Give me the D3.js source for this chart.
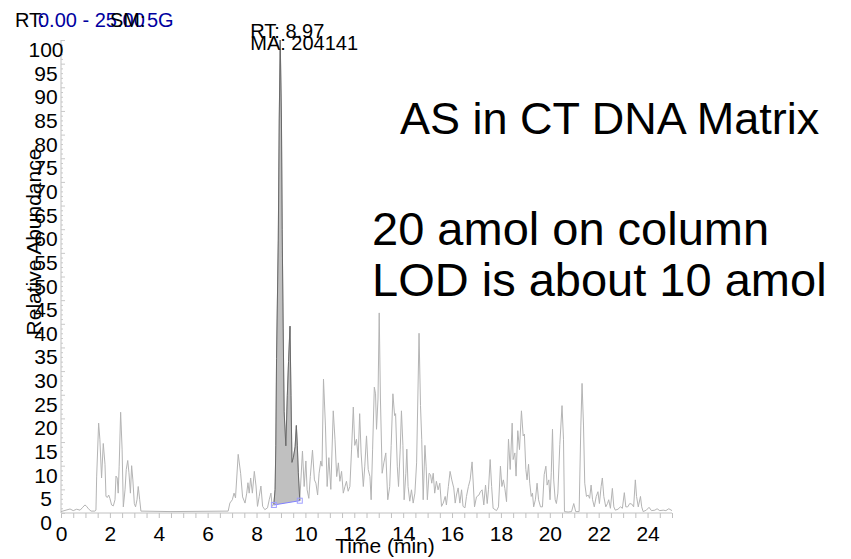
<!DOCTYPE html>
<html>
<head>
<meta charset="utf-8">
<script src="https://cdn.jsdelivr.net/npm/d3@7"></script>
<style>
body { margin: 0; background: #fff; }
text { font-family: "Liberation Sans", Arial, sans-serif; }
</style>
</head>
<body>
<script>
var width = 851;
var height = 559;

// chromatogram trace, time (min) and relative abundance (%)
var times = [0.0, 0.37, 0.5, 0.64, 0.78, 0.87, 0.98, 1.05, 1.12, 1.23, 1.39, 1.43, 1.46, 1.54, 1.59, 1.66, 1.73, 1.8, 1.84, 1.9,
  1.95, 2.0, 2.07, 2.14, 2.21, 2.25, 2.3, 2.34, 2.38, 2.44, 2.5, 2.55, 2.62, 2.67, 2.73, 2.78, 2.84, 2.89, 2.94, 3.0,
  3.05, 3.11, 3.16, 3.22, 3.27, 4.5, 6.84, 6.91, 7.01, 7.08, 7.14, 7.25, 7.35, 7.43, 7.53, 7.6, 7.65, 7.7, 7.76, 7.83,
  7.91, 7.98, 8.04, 8.11, 8.18, 8.25, 8.34, 8.45, 8.52, 8.59, 8.64, 8.71, 8.76, 8.79, 8.82, 8.89, 8.93, 8.97, 9.02, 9.05,
  9.09, 9.13, 9.2, 9.26, 9.31, 9.37, 9.41, 9.45, 9.51, 9.58, 9.63, 9.67, 9.71, 9.77, 9.88, 9.95, 10.02, 10.07, 10.14, 10.2,
  10.29, 10.37, 10.43, 10.5, 10.56, 10.63, 10.68, 10.74, 10.82, 10.89, 10.96, 11.04, 11.14, 11.21, 11.28, 11.35, 11.41, 11.48, 11.55, 11.62,
  11.68, 11.75, 11.82, 11.89, 11.96, 12.02, 12.09, 12.16, 12.22, 12.28, 12.37, 12.43, 12.5, 12.57, 12.64, 12.69, 12.75, 12.82, 12.87, 12.91,
  12.97, 13.02, 13.07, 13.14, 13.21, 13.29, 13.37, 13.45, 13.51, 13.58, 13.65, 13.69, 13.76, 13.81, 13.88, 13.93, 13.99, 14.04, 14.11, 14.15,
  14.2, 14.27, 14.34, 14.41, 14.48, 14.55, 14.6, 14.65, 14.71, 14.76, 14.82, 14.89, 14.94, 14.99, 15.06, 15.12, 15.17, 15.23, 15.29, 15.36,
  15.43, 15.5, 15.57, 15.64, 15.72, 15.77, 15.85, 15.92, 15.99, 16.07, 16.13, 16.18, 16.25, 16.32, 16.39, 16.45, 16.53, 16.59, 16.67, 16.74,
  16.82, 16.92, 17.0, 17.1, 17.16, 17.23, 17.3, 17.37, 17.44, 17.49, 17.56, 17.62, 17.68, 17.82, 17.9, 17.98, 18.04, 18.1, 18.16, 18.23,
  18.31, 18.38, 18.46, 18.5, 18.57, 18.62, 18.69, 18.76, 18.84, 18.91, 18.96, 19.02, 19.07, 19.13, 19.18, 19.24, 19.29, 19.34, 19.41, 19.48,
  19.54, 19.62, 19.7, 19.77, 19.84, 19.89, 19.96, 20.01, 20.06, 20.11, 20.16, 20.22, 20.27, 20.33, 20.41, 20.5, 20.56, 20.6, 20.75, 20.89,
  20.98, 21.06, 21.2, 21.27, 21.32, 21.38, 21.43, 21.5, 21.57, 21.63, 21.69, 21.75, 21.82, 21.9, 21.97, 22.03, 22.1, 22.15, 22.21, 22.29,
  22.36, 22.41, 22.48, 22.56, 22.62, 22.68, 22.79, 22.89, 22.97, 23.05, 23.11, 23.19, 23.27, 23.35, 23.43, 23.5, 23.55, 23.62, 23.71, 23.76,
  23.82, 23.95, 24.06, 24.16, 24.3, 24.39, 24.5, 24.64, 24.75, 24.87, 25.0];

var abundance = [0.3, 0.85, 0.5, 0.8, 0.6, 1.1, 1.7, 1.4, 0.9, 0.4, 0.4, 0.6, 7.8, 19.0, 15.6, 7.4, 14.7, 10.3, 3.5, 3.3,
  3.8, 3.1, 1.7, 1.5, 2.8, 7.8, 7.4, 4.2, 9.9, 21.3, 13.5, 1.3, 4.9, 9.2, 11.1, 8.5, 4.2, 10.0, 7.0, 2.0,
  1.3, 2.8, 5.6, 2.8, 0.4, 0.3, 0.4, 2.1, 2.8, 4.2, 3.2, 12.4, 8.4, 3.4, 2.1, 4.2, 6.4, 4.2, 7.4, 4.2,
  8.8, 5.7, 1.4, 3.5, 5.7, 1.4, 0.7, 1.1, 2.8, 4.2, 1.4, 1.9, 5.0, 14.2, 32.7, 57.7, 83.3, 100, 83.3, 60,
  39.1, 21.4, 14.2, 24.9, 32.0, 39.5, 24.9, 10.7, 11.8, 14.0, 18.5, 14.2, 8.5, 2.6, 13.1, 5.6, 11.0, 4.9, 3.1, 7.7,
  13.3, 7.0, 6.3, 3.8, 8.4, 11.0, 9.9, 28.3, 18.4, 5.6, 11.7, 5.0, 21.6, 15.6, 7.7, 10.6, 6.7, 8.8, 4.2, 5.6,
  6.7, 4.6, 5.6, 13.5, 22.4, 14.3, 15.6, 11.7, 21.0, 12.7, 5.6, 9.9, 16.3, 9.2, 7.7, 2.8, 13.5, 26.6, 25.2, 17.7,
  24.1, 42.3, 24.1, 8.4, 10.6, 12.7, 2.8, 5.6, 14.3, 25.2, 20.6, 21.0, 9.9, 5.6, 13.5, 21.6, 14.3, 2.8, 8.4, 13.5,
  5.6, 2.5, 4.9, 2.1, 4.2, 10.6, 24.1, 38.0, 22.7, 15.6, 2.8, 14.3, 9.9, 2.8, 8.4, 8.1, 6.3, 8.4, 4.2, 6.7,
  4.9, 6.3, 1.4, 2.1, 3.5, 1.7, 5.6, 8.8, 7.0, 5.3, 2.1, 3.8, 5.3, 2.1, 4.9, 1.4, 1.1, 3.5, 5.6, 7.0,
  10.8, 1.3, 3.4, 3.8, 4.5, 4.9, 1.7, 5.9, 2.0, 4.9, 11.3, 5.6, 1.0, 0.5, 1.3, 9.9, 5.6, 7.0, 5.2, 2.4,
  15.6, 9.2, 19.0, 11.3, 12.7, 7.8, 17.4, 13.4, 21.6, 16.3, 16.7, 9.2, 7.0, 10.3, 6.3, 3.5, 4.2, 1.3, 2.8, 6.3,
  2.8, 1.3, 1.3, 8.1, 9.9, 5.9, 7.0, 2.8, 8.5, 17.7, 7.0, 2.8, 2.0, 4.2, 14.5, 22.7, 15.6, 0.3, 0.2, 0.3,
  2.0, 0.3, 0.3, 18.4, 27.4, 18.4, 6.3, 3.5, 3.8, 3.1, 5.9, 2.8, 1.3, 3.5, 4.5, 2.0, 5.6, 7.4, 3.5, 1.3,
  2.0, 2.8, 1.0, 5.2, 1.3, 0.6, 0.8, 1.3, 1.0, 4.3, 1.3, 1.3, 2.0, 1.9, 1.3, 7.0, 3.5, 1.3, 3.5, 1.3,
  0.3, 0.6, 1.2, 0.5, 0.6, 0.9, 0.5, 0.6, 0.5, 0.9, 0.5];

// integrated peak: start/end time and baseline level
var peakTimes = [8.71, 9.77];
var peakBase = [1.7, 2.6];

var xTicks = [0, 2, 4, 6, 8, 10, 12, 14, 16, 18, 20, 22, 24];
var yTicks = [0, 5, 10, 15, 20, 25, 30, 35, 40, 45, 50, 55, 60, 65, 70, 75, 80, 85, 90, 95, 100];

var points = times.map(function(t, i) { return {t: t, v: abundance[i]}; });

var x = d3.scaleLinear().domain([0, 25]).range([61, 672]);
var y = d3.scaleLinear().domain([0, 100]).range([513, 40]);
var base = d3.scaleLinear().domain(peakTimes).range(peakBase);

var svg = d3.select("body")
    .append("svg")
    .attr("width", width)
    .attr("height", height);

// header
var head = svg.append("g").style("font-size", "20px");
head.append("text").attr("x", 15).attr("y", 27).attr("fill", "#000").text("RT:");
head.append("text").attr("x", 38).attr("y", 27).attr("fill", "#0000a0").text("0.00 - 25.00");
head.append("text").attr("x", 110).attr("y", 27).attr("fill", "#000").text("SM:");
head.append("text").attr("x", 147).attr("y", 27).attr("fill", "#0000a0").text("5G");

// x axis
var xAxis = svg.append("g")
    .attr("transform", "translate(0,513)")
    .call(d3.axisBottom(x)
        .tickValues(d3.range(0, 25.01, 0.5))
        .tickSize(5)
        .tickFormat(function(d) { return xTicks.indexOf(d) >= 0 ? d : ""; }));
xAxis.select(".domain").attr("stroke", "#c0c0c0").attr("d", "M61,0H672");
xAxis.selectAll(".tick line").attr("stroke", "#c0c0c0");
xAxis.selectAll(".tick text")
    .attr("y", 13)
    .attr("dy", "0.71em")
    .attr("fill", "#000")
    .style("font-size", "21px")
    .style("font-family", "'Liberation Sans', Arial, sans-serif");

// y axis (minor ticks to the right)
var yAxis = svg.append("g")
    .attr("transform", "translate(61,0)")
    .call(d3.axisRight(y)
        .tickValues(d3.range(0, 100.01, 1))
        .tickSize(2)
        .tickFormat(""));
yAxis.select(".domain").attr("stroke", "#c0c0c0").attr("d", "M0,513V40");
yAxis.selectAll(".tick line")
    .attr("stroke", "#c8c8c8")
    .attr("x2", function(d) { return d % 5 === 0 ? 4 : 2; });

svg.append("g")
    .selectAll("text")
    .data(yTicks)
    .join("text")
    .attr("x", 46)
    .attr("y", function(d) { return y(d) + 17; })
    .attr("text-anchor", "middle")
    .style("font-size", "21px")
    .text(function(d) { return d; });

// filled peak
var peakPts = points.filter(function(p) { return p.t >= peakTimes[0] && p.t <= peakTimes[1]; });
var area = d3.area()
    .x(function(d) { return x(d.t); })
    .y0(function(d) { return y(base(d.t)); })
    .y1(function(d) { return y(d.v); });

svg.append("path")
    .datum(peakPts)
    .attr("fill", "#c0c0c0")
    .attr("d", area);

// trace
var line = d3.line()
    .x(function(d) { return x(d.t); })
    .y(function(d) { return y(d.v); });

svg.append("path")
    .datum(points)
    .attr("fill", "none")
    .attr("stroke", "#b4b4b4")
    .attr("stroke-width", 1)
    .attr("d", line);

svg.append("path")
    .datum(peakPts)
    .attr("fill", "none")
    .attr("stroke", "#6a6a6a")
    .attr("stroke-width", 1)
    .attr("d", line);

// peak baseline and end markers
svg.append("line")
    .attr("x1", x(peakTimes[0]))
    .attr("y1", y(peakBase[0]))
    .attr("x2", x(peakTimes[1]))
    .attr("y2", y(peakBase[1]))
    .attr("stroke", "#8080ff")
    .attr("stroke-width", 1);

svg.selectAll(".marker")
    .data(peakTimes)
    .join("rect")
    .attr("class", "marker")
    .attr("x", function(d) { return x(d) - 2.5; })
    .attr("y", function(d, i) { return y(peakBase[i]) - 2.5; })
    .attr("width", 5)
    .attr("height", 5)
    .attr("fill", "none")
    .attr("stroke", "#a0a0ff")
    .attr("stroke-width", 1);

// peak label
var apex = points.reduce(function(a, b) { return b.v > a.v ? b : a; });
var lab = svg.append("g").style("font-size", "20px");
lab.append("text").attr("x", x(apex.t) - 30).attr("y", 38).text("RT: " + apex.t.toFixed(2));
lab.append("text").attr("x", x(apex.t) - 30).attr("y", 50).text("MA: 204141");

// axis titles
svg.append("text")
    .attr("x", 385)
    .attr("y", 553)
    .attr("text-anchor", "middle")
    .style("font-size", "21px")
    .text("Time (min)");

svg.append("text")
    .attr("transform", "translate(41,242) rotate(-90)")
    .attr("text-anchor", "middle")
    .style("font-size", "21px")
    .text("Relative Abundance");

// annotations
var note = svg.append("g").attr("fill", "#000");
note.append("text").attr("x", 400).attr("y", 134).style("font-size", "45px").text("AS in CT DNA Matrix");
note.append("text").attr("x", 372).attr("y", 245).style("font-size", "47px").text("20 amol on column");
note.append("text").attr("x", 372).attr("y", 296).style("font-size", "47px").text("LOD is about 10 amol");
</script>
</body>
</html>
